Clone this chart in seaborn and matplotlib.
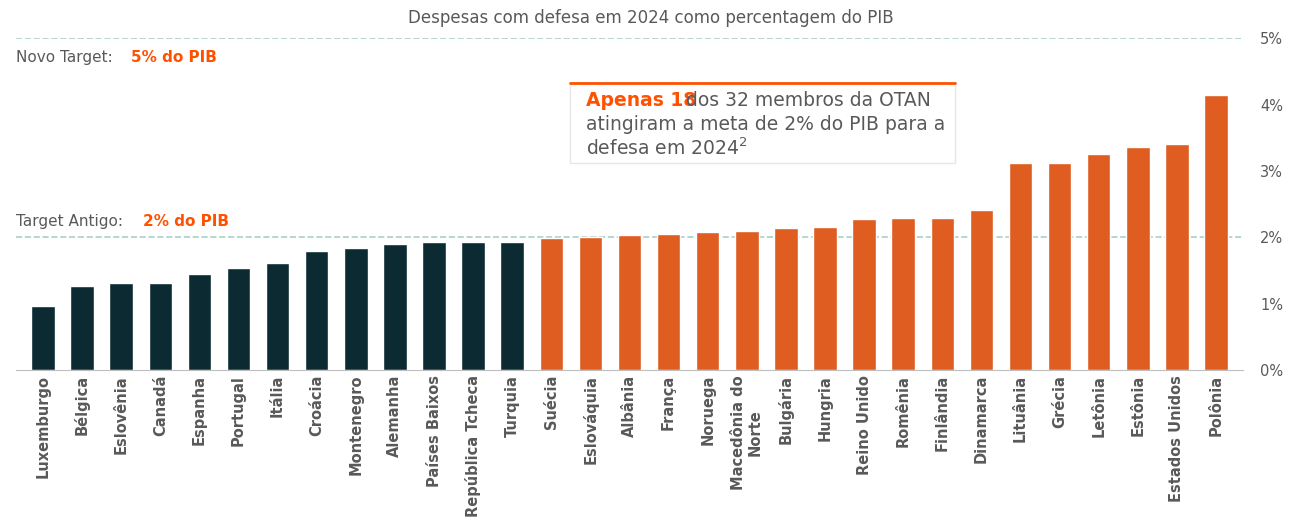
import matplotlib
matplotlib.use("Agg")
import matplotlib.pyplot as plt
import seaborn as sns
import pandas as pd
from matplotlib.patches import Rectangle

countries = ["Luxemburgo", "Bélgica", "Eslovênia", "Canadá", "Espanha", "Portugal", "Itália",
             "Croácia", "Montenegro", "Alemanha", "Países Baixos", "República Tcheca", "Turquia",
             "Suécia", "Eslováquia", "Albânia", "França", "Noruega", "Macedônia do\nNorte",
             "Bulgária", "Hungria", "Reino Unido", "Romênia", "Finlândia", "Dinamarca",
             "Lituânia", "Grécia", "Letônia", "Estônia", "Estados Unidos", "Polônia"]
values = [0.96, 1.27, 1.31, 1.31, 1.45, 1.54, 1.61, 1.79, 1.84, 1.90, 1.93, 1.93, 1.93,
          1.99, 2.00, 2.03, 2.05, 2.08, 2.09, 2.14, 2.15, 2.27, 2.29, 2.29, 2.41,
          3.12, 3.12, 3.25, 3.36, 3.40, 4.14]
n_dark = 13

DARK = "#062e38"
ORANGE = "#ff5200"
GREY = "#595959"

df = pd.DataFrame({"pais": countries, "gasto": values})
df["grupo"] = ["abaixo"] * n_dark + ["acima"] * (len(countries) - n_dark)

sns.set_style("white")
fig = plt.figure(figsize=(13.02, 5.22), dpi=100)
ax = fig.add_axes([0.012, 0.291, 0.943, 0.636])
sns.barplot(data=df, x="pais", y="gasto", hue="grupo", palette={"abaixo": DARK, "acima": ORANGE},
            dodge=False, legend=False, width=0.6, ax=ax)
ax.set_ylim(0, 5)
ax.set_xlim(-0.7, len(countries) - 0.3)
for s in ["top", "left", "right"]:
    ax.spines[s].set_visible(False)
ax.spines["bottom"].set_color("#bfbfbf")
ax.yaxis.tick_right()
ax.set_yticks([0, 1, 2, 3, 4, 5])
ax.set_yticklabels([f"{i}%" for i in range(6)], color=GREY, fontsize=10.5)
ax.tick_params(axis="y", length=0, pad=12)
ax.tick_params(axis="x", length=0)
ax.set_xticks(range(len(countries)))
ax.set_xticklabels(countries, rotation=90, color=GREY, fontsize=10.5, fontweight="bold")
ax.set_xlabel("")
ax.set_ylabel("")

for y in [2, 5]:
    ax.axhline(y, color="#a9cfc6", ls="--", lw=1.2, zorder=0)

ax.text(-0.7, 5.0 - 0.18, "Novo Target: ", color=GREY, fontsize=11, va="top")
ax.text(2.25, 5.0 - 0.18, "5% do PIB", color=ORANGE, fontsize=11, va="top", fontweight="bold")
ax.text(-0.7, 2.12, "Target Antigo: ", color=GREY, fontsize=11, va="bottom")
ax.text(2.55, 2.12, "2% do PIB", color=ORANGE, fontsize=11, va="bottom", fontweight="bold")

fig.text(0.5, 0.965, "Despesas com defesa em 2024 como percentagem do PIB", ha="center",
         va="center", color=GREY, fontsize=12)

# annotation box
x0, y0, w, h = 570 / 1302, 1 - 163 / 522, 385 / 1302, 80 / 522
fig.patches.append(Rectangle((x0, y0), w, h, transform=fig.transFigure, facecolor="white",
                             edgecolor="#e6e6e6", lw=1, zorder=5))
fig.add_artist(plt.Line2D([x0, x0 + w], [y0 + h, y0 + h], transform=fig.transFigure,
                          color=ORANGE, lw=2, zorder=6))
tx = x0 + 0.012
fig.text(tx, 1 - 100 / 522, "Apenas 18", color=ORANGE, fontsize=13.5, fontweight="bold",
         va="center", zorder=7)
fig.text(tx + 0.077, 1 - 100 / 522, "dos 32 membros da OTAN", color=GREY, fontsize=13.5,
         va="center", zorder=7)
fig.text(tx, 1 - 124 / 522, "atingiram a meta de 2% do PIB para a", color=GREY, fontsize=13.5,
         va="center", zorder=7)
fig.text(tx, 1 - 148 / 522, "defesa em 2024$^{2}$", color=GREY, fontsize=13.5, va="center", zorder=7)

fig.savefig("out.png", dpi=100)
